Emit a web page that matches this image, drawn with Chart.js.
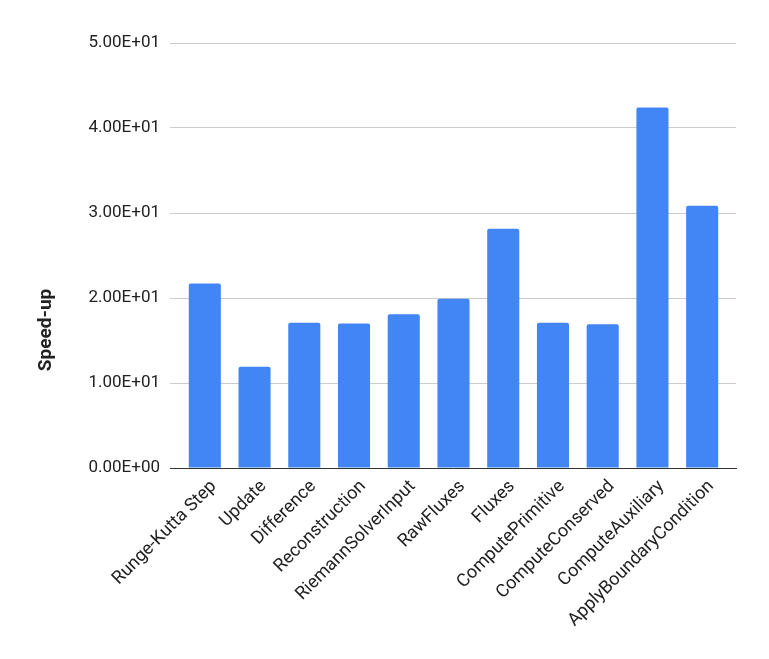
<!DOCTYPE html>
<html>
<head>
<meta charset="utf-8">
<script src="https://cdn.jsdelivr.net/npm/chart.js@4"></script>
<style>
  html, body { margin: 0; padding: 0; background: #fff; }
  #wrap { width: 769px; height: 659px; }
</style>
</head>
<body>
<div id="wrap"><canvas id="c" width="769" height="659"></canvas></div>
<script>
const categories = ["Runge-Kutta Step", "Update", "Difference", "Reconstruction", "RiemannSolverInput", "RawFluxes", "Fluxes", "ComputePrimitive", "ComputeConserved", "ComputeAuxiliary", "ApplyBoundaryCondition"];
const speedup = [21.7, 11.9, 17.1, 17.0, 18.1, 19.9, 28.15, 17.1, 16.9, 42.4, 30.85];
const yTicks = [0, 10, 20, 30, 40, 50];
const axisTitle = "Speed-up";

function sci(v) {
  if (v === 0) return "0.00E+00";
  const e = Math.floor(Math.log10(Math.abs(v)));
  const m = v / Math.pow(10, e);
  const es = (e < 0 ? "-" : "+") + String(Math.abs(e)).padStart(2, "0");
  return m.toFixed(2) + "E" + es;
}

const titlePlugin = {
  id: "sideTitle",
  afterDraw(chart) {
    const ctx = chart.ctx;
    ctx.save();
    ctx.translate(46, 330);
    ctx.rotate(-Math.PI / 2);
    ctx.font = "bold 19px Roboto";
    ctx.fillStyle = "#222222";
    ctx.textAlign = "center";
    ctx.textBaseline = "middle";
    ctx.fillText(axisTitle, 0, 0);
    ctx.restore();
  }
};

const points = speedup.map((v, i) => ({ x: i, y: v }));

new Chart(document.getElementById("c"), {
  type: "bar",
  data: {
    datasets: [{
      label: axisTitle,
      data: points,
      backgroundColor: "#4285f4",
      borderRadius: 2,
      borderSkipped: "bottom",
      categoryPercentage: 0.645,
      barPercentage: 1.0
    }]
  },
  plugins: [titlePlugin],
  options: {
    responsive: false,
    animation: false,
    devicePixelRatio: 1,
    layout: { padding: { left: 0, right: 33, top: 43, bottom: 0 } },
    plugins: { legend: { display: false }, tooltip: { enabled: false } },
    scales: {
      x: {
        type: "linear",
        min: -0.7,
        max: 10.68,
        offset: false,
        afterFit: (axis) => { axis.height = 191; },
        afterBuildTicks: (axis) => { axis.ticks = categories.map((c, i) => ({ value: i })); },
        grid: { display: false, drawTicks: false },
        border: { display: true, color: "#333333", width: 1 },
        ticks: {
          color: "#222222",
          font: { family: "Roboto", size: 18 },
          minRotation: 45,
          maxRotation: 45,
          autoSkip: false,
          padding: 8,
          labelOffset: 9,
          callback: (v) => categories[v]
        }
      },
      y: {
        min: 0,
        max: 50,
        afterFit: (axis) => { axis.width = 170; },
        afterBuildTicks: (axis) => { axis.ticks = yTicks.map(v => ({ value: v })); },
        grid: { color: "#cccccc", drawTicks: false },
        border: { display: false },
        ticks: {
          color: "#222222",
          font: { family: "Roboto", size: 17 },
          padding: 10,
          callback: (v) => sci(v)
        }
      }
    }
  }
});
</script>
</body>
</html>
